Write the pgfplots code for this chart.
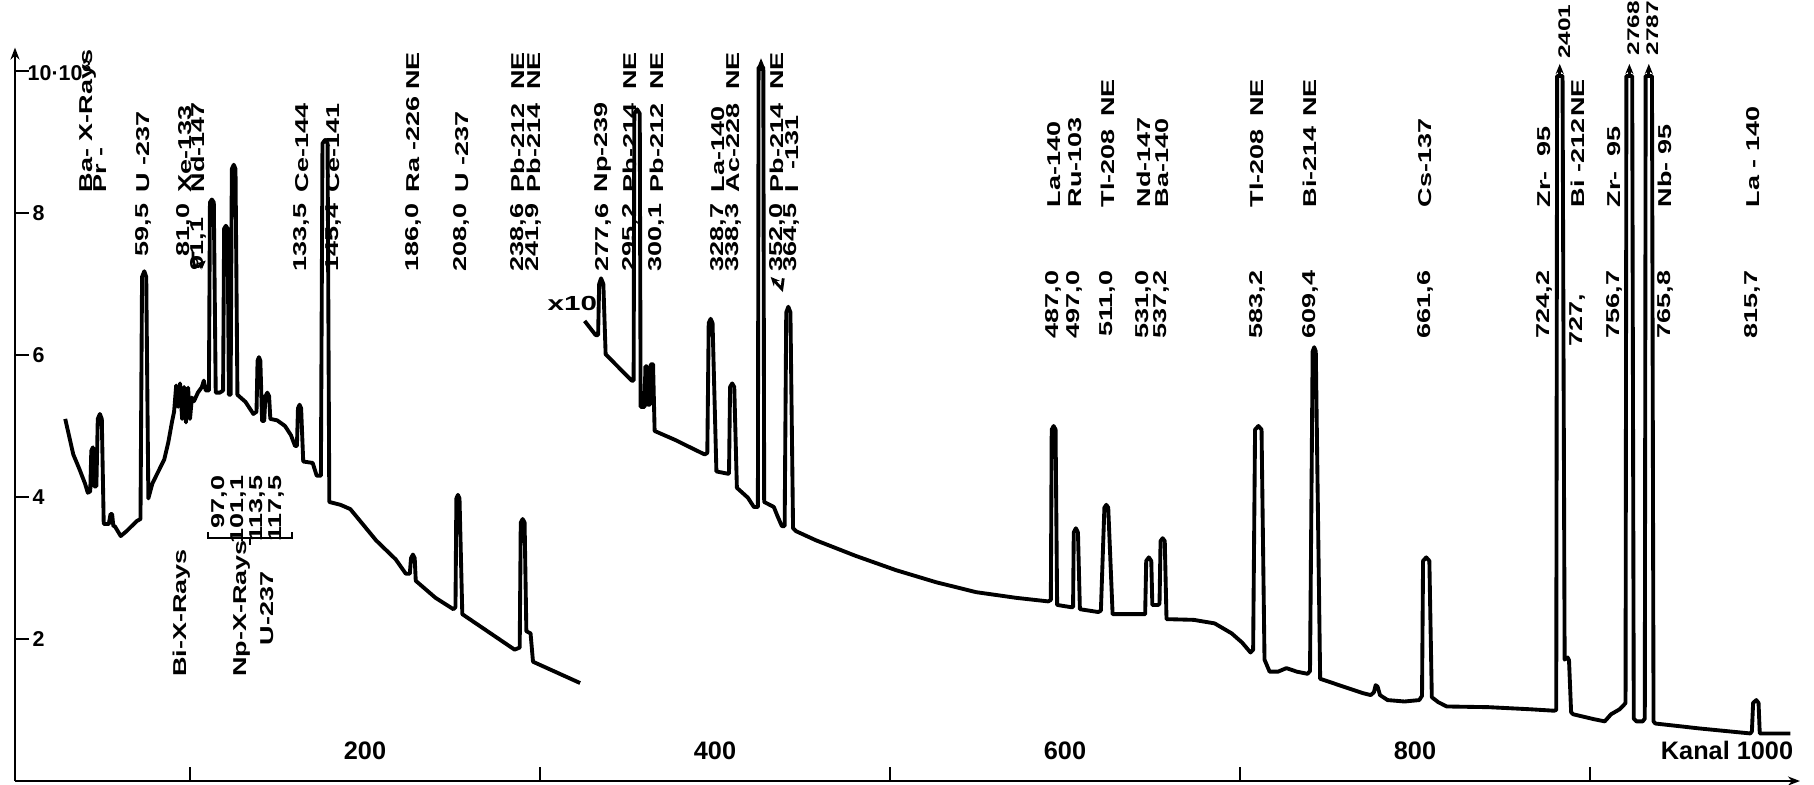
\documentclass[border=0pt]{standalone}
\usepackage{fontspec}
\setmainfont{Liberation Sans}
\newfontfamily\lab[FakeStretch=1.45]{Liberation Sans}
\usepackage{pgfplots}
\pgfplotsset{compat=1.18}
\usetikzlibrary{arrows.meta}
\begin{document}
\begin{tikzpicture}[
  name/.style={rotate=90, anchor=west, inner sep=0pt, font=\lab\bfseries\fontsize{5.3}{7.7}\selectfont},
  en/.style={rotate=90, anchor=east, inner sep=0pt, font=\lab\bfseries\fontsize{5.3}{7.7}\selectfont},
  enb/.style={rotate=90, anchor=west, inner sep=0pt, font=\lab\bfseries\fontsize{5.3}{7.7}\selectfont},
  big/.style={rotate=90, anchor=west, inner sep=0pt, font=\lab\bfseries\fontsize{4.8}{5.5}\selectfont},
]
\begin{axis}[
  at={(0,0)}, anchor=south west,
  x=0.175mm, y=7.1mm,
  xmin=0, xmax=1020, ymin=0, ymax=10.33,
  axis lines=left,
  axis line style={line width=0.8pt, -{Stealth[length=1.2mm,width=0.9mm]}},
  clip=false,
  tick align=inside,
  major tick length=1.4mm,
  every tick/.style={line width=0.8pt, black},
  xtick={100,300,500,700,900}, xticklabels={},
  extra x ticks={200,400,600,800,1000},
  extra x tick labels={200,400,600,800,{\llap{Kanal\ }1000}},
  extra x tick style={major tick length=0pt,
    xticklabel style={anchor=south, yshift=2.1mm, inner sep=0pt, font=\bfseries\fontsize{7.2}{8}\selectfont}},
  ytick={2,4,6,8,10},
  yticklabels={2,4,6,8,{\kern-0.5mm 10\textperiodcentered10\textsuperscript{3}}},
  yticklabel style={anchor=west, xshift=1.7mm, inner sep=0pt, font=\bfseries\fontsize{6.1}{7}\selectfont},
]
% main spectrum (low energy part)
\addplot[black, line width=1.1pt, line join=round] coordinates {
(28.7,5.10) (31.0,4.85) (33.3,4.60) (36.7,4.40) (40.0,4.19) (41.6,4.06) (43.0,4.08)
(43.6,4.65) (44.5,4.70) (45.3,4.15) (46.5,4.15) (47.3,5.10) (48.5,5.17) (49.6,5.10)
(50.7,3.62) (53.6,3.62) (54.6,3.76) (55.5,3.76) (56.2,3.59) (57.0,3.59) (60.4,3.45)
(63.8,3.52) (69.5,3.66) (71.7,3.69) (72.6,7.10) (73.9,7.18) (75.0,7.10) (76.2,3.98)
(78.5,4.19) (81.9,4.36) (85.3,4.53) (87.6,4.77) (89.8,5.07) (90.9,5.20) (92.1,5.57)
(93.2,5.27) (94.3,5.60) (95.5,5.10) (96.6,5.55) (97.7,5.05) (98.9,5.54) (100.0,5.10)
(101.1,5.40) (102.3,5.35) (104.5,5.47) (106.8,5.55) (107.9,5.64) (109.0,5.50)
(110.8,5.50) (111.4,8.15) (112.5,8.19) (113.6,8.15) (114.7,5.47) (117.0,5.47)
(118.9,5.50) (119.5,7.78) (120.5,7.82) (121.5,7.78) (122.2,5.44) (123.2,5.44)
(123.9,8.62) (125.0,8.68) (126.0,8.62) (127.1,5.44) (131.7,5.34) (136.2,5.17)
(138.0,5.20) (138.6,5.92) (139.4,5.97) (140.2,5.92) (141.2,5.07) (142.4,5.07)
(143.1,5.42) (144.2,5.47) (145.2,5.42) (145.9,5.10) (149.8,5.08) (154.3,5.00)
(157.7,4.87) (160.0,4.72) (161.1,4.72) (161.7,5.25) (162.6,5.30) (163.5,5.25)
(164.7,4.50) (170.1,4.48) (172.4,4.30) (174.8,4.30) (175.7,8.98) (177.2,9.03)
(178.6,8.98) (179.6,3.93) (186.0,3.89) (191.6,3.83) (197.3,3.66) (206.3,3.39)
(217.6,3.12) (223.3,2.92) (225.6,2.92) (226.3,3.14) (227.4,3.19) (228.4,3.14)
(229.0,2.82) (240.3,2.58) (250.5,2.42) (251.7,2.45) (252.2,3.98) (253.1,4.03)
(254.0,3.98) (255.6,2.35) (285.5,1.85) (288.4,1.88) (289.0,3.64) (290.1,3.69)
(291.2,3.64) (292.2,2.11) (294.6,2.08) (296.0,1.68) (322.9,1.38)
};
% x10 part and high energy part
\addplot[black, line width=1.1pt, line join=round] coordinates {
(325.5,6.48) (331.8,6.28) (333.2,6.28) (333.8,7.00) (334.9,7.08) (336.2,7.00)
(337.5,6.01) (352.4,5.64) (353.5,5.64) (353.9,9.40) (355.5,9.46) (357.0,9.40)
(357.5,5.27) (359.8,5.27) (360.2,5.84) (361.2,5.84) (361.6,5.30) (362.8,5.30)
(363.3,5.87) (364.6,5.87) (365.5,4.93) (377.6,4.80) (389.0,4.66) (394.1,4.60)
(395.6,4.62) (396.4,6.45) (397.5,6.51) (398.6,6.45) (400.8,4.36) (406.9,4.33)
(408.0,4.33) (408.6,5.55) (409.8,5.60) (411.0,5.55) (412.5,4.13) (418.8,3.99)
(422.2,3.86) (424.5,3.86) (424.9,10.05) (427.6,10.05) (428.1,3.93) (433.6,3.86)
(435.9,3.72) (438.2,3.59) (439.8,3.59) (440.7,6.60) (441.9,6.68) (443.1,6.60)
(444.6,3.56) (446.2,3.52) (457.7,3.39) (480.5,3.17) (503.4,2.97) (526.3,2.80)
(549.2,2.66) (572.1,2.58) (590.4,2.53) (591.9,2.55) (592.4,4.95) (593.5,5.00)
(594.6,4.95) (595.5,2.48) (603.0,2.45) (604.6,2.45) (605.0,3.50) (606.2,3.56)
(607.4,3.50) (608.5,2.42) (619.0,2.38) (620.5,2.40) (622.5,3.85) (623.6,3.89)
(624.7,3.85) (627.2,2.35) (644.2,2.35) (645.8,2.35) (646.4,3.10) (647.9,3.15)
(649.3,3.10) (649.9,2.48) (653.3,2.48) (654.0,2.50) (654.6,3.38) (655.8,3.42)
(657.0,3.38) (658.0,2.28) (673.5,2.27) (685.5,2.22) (695.2,2.08) (701.2,1.95)
(706.0,1.81) (707.5,1.85) (708.6,4.95) (710.5,5.00) (712.3,4.95) (714.0,1.71)
(716.9,1.54) (721.7,1.54) (726.5,1.59) (732.5,1.54) (738.6,1.51) (740.0,1.55)
(741.5,6.05) (742.4,6.11) (743.3,6.05) (745.8,1.44) (757.8,1.34) (769.9,1.24)
(774.7,1.21) (776.5,1.25) (777.5,1.35) (778.6,1.33) (780.0,1.21) (784.3,1.14)
(794.0,1.12) (802.4,1.14) (804.0,1.20) (804.6,3.10) (806.4,3.15) (808.2,3.10)
(809.6,1.18) (813.3,1.11) (818.1,1.05) (842.2,1.04) (866.3,1.01) (879.5,0.99)
(880.7,1.00) (881.2,9.93) (884.3,9.93) (885.5,1.71) (887.2,1.74) (888.0,1.70)
(889.2,0.97) (890.4,0.94) (902.4,0.87) (908.4,0.84) (912.0,0.94) (916.9,1.01)
(919.3,1.07) (920.3,1.10) (920.8,9.93) (924.1,9.93) (925.0,0.88) (926.5,0.84)
(930.1,0.84) (931.3,0.88) (931.8,9.93) (935.4,9.93) (936.3,0.84) (937.3,0.81)
(962.7,0.74) (991.6,0.67) (992.5,0.70) (993.2,1.10) (995.0,1.14) (996.3,1.10)
(997.0,0.67) (1014.5,0.67)
};
% off-scale arrows
\addplot[black, line width=0.8pt, -{Stealth[length=1mm,width=0.8mm]}] coordinates {(426.3,10.0) (426.3,10.18)};
\addplot[black, line width=0.8pt, -{Stealth[length=1mm,width=0.8mm]}] coordinates {(882.7,9.9) (882.7,10.1)};
\addplot[black, line width=0.8pt, -{Stealth[length=1mm,width=0.8mm]}] coordinates {(922.5,9.9) (922.5,10.1)};
\addplot[black, line width=0.8pt, -{Stealth[length=1mm,width=0.8mm]}] coordinates {(933.6,9.9) (933.6,10.1)};
\node[big] at (axis cs:885.3,10.16) {2401};
\node[big] at (axis cs:924.8,10.21) {2768};
\node[big] at (axis cs:935.6,10.21) {2787};

% left/middle labels
\node[name] at (axis cs:41.7,8.28) {Ba- X-Rays};
\node[name] at (axis cs:48.6,8.28) {Pr -};
\node[en] at (axis cs:73.3,8.14) {59,5};   \node[name] at (axis cs:73.3,8.28) {U -237};
\node[en] at (axis cs:97.1,8.14) {81,0};   \node[name] at (axis cs:97.1,8.28) {Xe-133};
\node[en] at (axis cs:105.0,7.94) {91,1};  \node[name] at (axis cs:104.6,8.28) {Nd-147};
\node[en] at (axis cs:163.8,8.14) {133,5}; \node[name] at (axis cs:163.8,8.28) {Ce-144};
\node[en] at (axis cs:181.9,8.14) {145,4}; \node[name] at (axis cs:181.9,8.28) {Ce-141};
\node[en] at (axis cs:227.6,8.14) {186,0}; \node[name] at (axis cs:227.6,8.28) {\makebox[14mm][l]{Ra -226\hfill NE}};
\node[en] at (axis cs:255.2,8.14) {208,0}; \node[name] at (axis cs:255.2,8.28) {U -237};
\node[en] at (axis cs:287.6,8.14) {238,6}; \node[name] at (axis cs:287.6,8.28) {\makebox[14mm][l]{Pb-212\hfill NE}};
\node[en] at (axis cs:296.2,8.14) {241,9}; \node[name] at (axis cs:296.2,8.28) {\makebox[14mm][l]{Pb-214\hfill NE}};
\node[en] at (axis cs:336.2,8.14) {277,6}; \node[name] at (axis cs:336.2,8.28) {Np-239};
\node[en] at (axis cs:351.4,8.14) {295,2}; \node[name] at (axis cs:351.4,8.28) {\makebox[14mm][l]{Pb-214\hfill NE}};
\node[en] at (axis cs:366.7,8.14) {300,1}; \node[name] at (axis cs:366.7,8.28) {\makebox[14mm][l]{Pb-212\hfill NE}};
\node[en] at (axis cs:401.9,8.14) {328,7}; \node[name] at (axis cs:401.9,8.28) {La-140};
\node[en] at (axis cs:410.5,8.14) {338,3}; \node[name] at (axis cs:410.5,8.28) {\makebox[14mm][l]{Ac-228\hfill NE}};
\node[en] at (axis cs:435.4,8.14) {352,0}; \node[name] at (axis cs:435.4,8.28) {\makebox[14mm][l]{Pb-214\hfill NE}};
\node[en] at (axis cs:443.8,8.14) {364,5}; \node[name] at (axis cs:443.8,8.28) {I \ -131};

% right labels
\node[en] at (axis cs:593.5,7.20) {487,0}; \node[name] at (axis cs:593.5,8.07) {La-140};
\node[en] at (axis cs:605.5,7.20) {497,0}; \node[name] at (axis cs:605.5,8.07) {Ru-103};
\node[en] at (axis cs:624.3,7.20) {511,0}; \node[name] at (axis cs:624.3,8.07) {\makebox[12.8mm][l]{Tl-208\hfill NE}};
\node[en] at (axis cs:644.8,7.20) {531,0}; \node[name] at (axis cs:644.8,8.07) {Nd-147};
\node[en] at (axis cs:655.2,7.20) {537,2}; \node[name] at (axis cs:655.2,8.07) {Ba-140};
\node[en] at (axis cs:709.7,7.20) {583,2}; \node[name] at (axis cs:709.7,8.07) {\makebox[12.8mm][l]{Tl-208\hfill NE}};
\node[en] at (axis cs:740.0,7.20) {609,4}; \node[name] at (axis cs:740.0,8.07) {\makebox[12.8mm][l]{Bi-214\hfill NE}};
\node[en] at (axis cs:805.7,7.20) {661,6}; \node[name] at (axis cs:805.7,8.07) {Cs-137};
\node[en] at (axis cs:874.0,7.20) {724,2}; \node[name] at (axis cs:874.0,8.07) {Zr-\ \ 95};
\node[enb] at (axis cs:893.0,6.11) {727,}; \node[name] at (axis cs:893.0,8.07) {\makebox[12.8mm][l]{Bi -212\hfill NE}};
\node[en] at (axis cs:914.0,7.20) {756,7}; \node[name] at (axis cs:914.0,8.07) {Zr-\ \ 95};
\node[en] at (axis cs:943.0,7.20) {765,8}; \node[name] at (axis cs:943.0,8.07) {Nb-\ 95};
\node[en] at (axis cs:993.0,7.20) {815,7}; \node[name] at (axis cs:993.0,8.07) {La - 140};

% lower left labels
\node[name] at (axis cs:95.4,1.46) {Bi-X-Rays};
\node[name, align=center] at (axis cs:136.3,1.46) {Np-X-Rays\\U-237};
\node[en] at (axis cs:117.1,4.31) {97,0};
\node[en] at (axis cs:127.4,4.31) {101,1};
\node[en] at (axis cs:138.3,4.31) {113,5};
\node[en] at (axis cs:149.7,4.31) {117,5};
\draw[line width=0.6pt] (axis cs:110.3,3.51) -- (axis cs:110.3,3.42) -- (axis cs:158.3,3.42) -- (axis cs:158.3,3.51);
\draw[line width=0.6pt] (axis cs:134.3,3.42) -- (axis cs:134.3,3.33);

% x10 and hooks
\node[font=\lab\bfseries\fontsize{5.8}{7}\selectfont, inner sep=0pt] at (axis cs:318.5,6.72) {x10};
\draw[line width=0.8pt, -{Stealth[length=0.9mm,width=0.8mm]}] (axis cs:101.7,7.45) .. controls (axis cs:101.5,7.20) and (axis cs:104,7.22) .. (axis cs:109.0,7.33);
\draw[line width=0.8pt, -{Stealth[length=0.9mm,width=0.8mm]}] (axis cs:439.0,7.08) -- (axis cs:438.2,6.93) -- (axis cs:431.8,7.10);
\end{axis}
\pgfresetboundingbox
\path[use as bounding box] (-1.5mm,-0.3mm) rectangle (179.9mm,78.1mm);
\end{tikzpicture}
\end{document}
